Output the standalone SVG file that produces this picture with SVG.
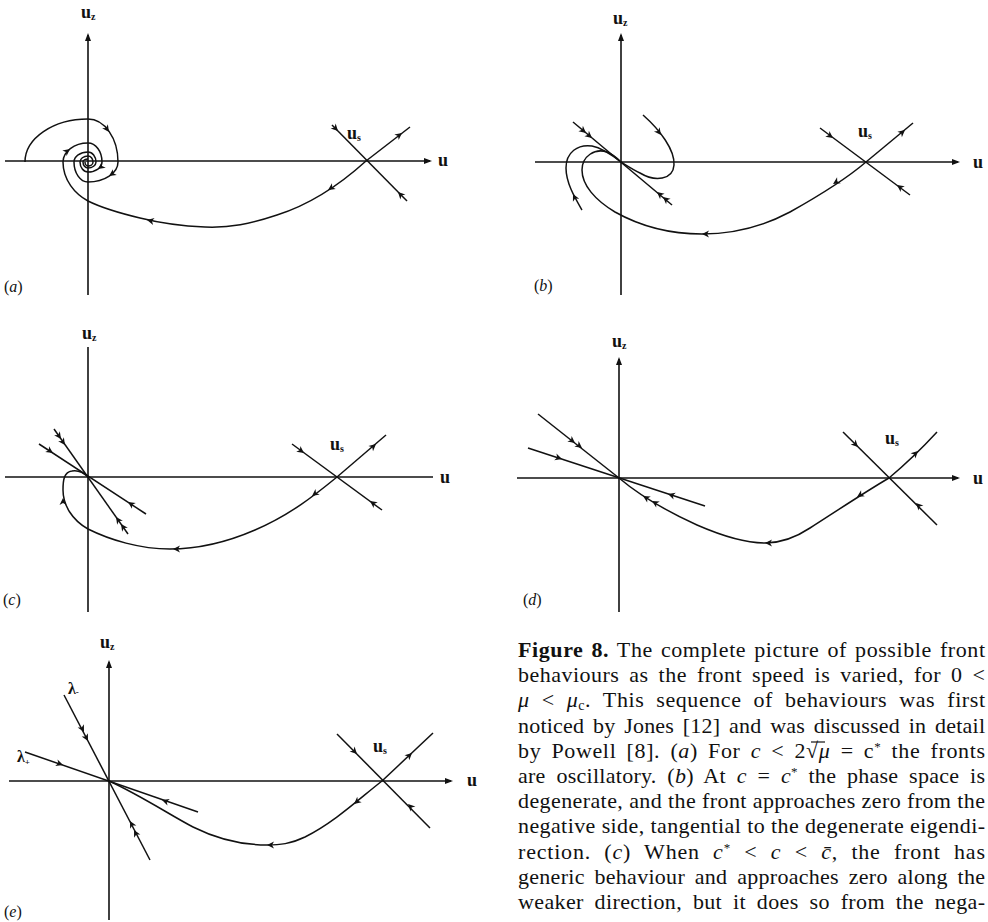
<svg xmlns="http://www.w3.org/2000/svg" xmlns:xlink="http://www.w3.org/1999/xlink" width="988" height="922" viewBox="0 0 988 922">
<style>
.ax{stroke:#111;stroke-width:1.6;fill:none}
.tr{stroke:#111;stroke-width:1.5;fill:none}
.lbl{font-family:"Liberation Serif",serif;font-weight:bold;font-size:18px;fill:#111}
.sub{font-size:10px}
.pl{font-family:"Liberation Serif",serif;font-size:16px;fill:#111}
.cap{font-family:"Liberation Serif",serif;font-size:22px;fill:#111}
.ah{fill:#111}
</style>
<defs>
<path id="ah" d="M0,0 L-7,-3.5 L-5,0 L-7,3.5 Z"/>
<path id="tip" d="M0,0 L-8,-3 L-8,3 Z"/>
</defs>

<g id="panel-a">
<line class="ax" x1="5" y1="161" x2="430" y2="161"/>
<line class="ax" x1="88" y1="35" x2="88" y2="295"/>
<use href="#tip" class="ah" transform="translate(88,33) rotate(-90)"/>
<use href="#tip" class="ah" transform="translate(432,161)"/>
<g id="conn-a">
<line class="tr" x1="332" y1="125" x2="407" y2="201"/>
<line class="tr" x1="366" y1="161" x2="410" y2="127"/>
<path class="tr" d="M366,161 C345,180 315,203 277,215 C250,224 230,228 205,227 C180,226 160,223 140,218 C115,212 100,207 88,201 C75,194 63,180 63,162 A25,19 0 0 1 88,143 A14,19 0 0 1 102,162 A14,10 0 0 1 88,172 A8,10 0 0 1 80,162 A8,6 0 0 1 88,156 A5,6 0 0 1 93,162 A5,4 0 0 1 88,166 A3,4 0 0 1 85,162"/>
<path class="tr" d="M25,162 A63,43 0 0 1 88,119 A30,43 0 0 1 118,162 A30,20 0 0 1 88,182 A14,20 0 0 1 74,162 A14,10 0 0 1 88,152 A8,10 0 0 1 96,162 A8,6 0 0 1 88,168 A5,6 0 0 1 83,162 A5,3 0 0 1 88,159"/>
<use href="#ah" class="ah" transform="translate(338,131) rotate(46)"/>
<use href="#ah" class="ah" transform="translate(398,192) rotate(226)"/>
<use href="#ah" class="ah" transform="translate(402,133) rotate(-38)"/>
<use href="#ah" class="ah" transform="translate(328,190) rotate(147)"/>
<use href="#ah" class="ah" transform="translate(147,220) rotate(192)"/>
<use href="#ah" class="ah" transform="translate(109,132) rotate(55)"/>
<use href="#ah" class="ah" transform="translate(109,176) rotate(146)"/>
<use href="#ah" class="ah" transform="translate(70,149) rotate(-37)"/>
<use href="#ah" class="ah" transform="translate(98,169) rotate(144)"/>
</g>
<text class="lbl" x="81" y="18">u<tspan class="sub" dy="2">z</tspan></text>
<text class="lbl" x="347" y="139">u<tspan class="sub" dy="2">s</tspan></text>
<text class="lbl" x="438" y="166">u</text>
<text class="pl" x="4" y="292">(<tspan font-style="italic">a</tspan>)</text>
</g>

<g id="panel-b">
<line class="ax" x1="535" y1="162" x2="958" y2="162"/>
<line class="ax" x1="621" y1="35" x2="621" y2="295"/>
<use href="#tip" class="ah" transform="translate(621,33) rotate(-90)"/>
<use href="#tip" class="ah" transform="translate(960,162)"/>
<g id="conn-b">
<line class="tr" x1="820" y1="128" x2="910" y2="195"/>
<line class="tr" x1="866" y1="162" x2="913" y2="123"/>
<line class="tr" x1="573" y1="122" x2="672" y2="205"/>
<path class="tr" d="M866,162 C845,180 815,198 790,212 C760,228 730,234 702,234 C670,234 640,226 615,212 C595,200 582,185 582,170 C582,156 595,148 607,152 C612,154 617,158 621,162"/>
<path class="tr" d="M643,115 C660,130 675,150 674,165 C673,180 655,182 640,173 C632,169 626,165 621,162"/>
<path class="tr" d="M582,210 C575,198 566,183 566,168 C566,152 578,144 592,146 C602,148 612,155 621,162"/>
<use href="#ah" class="ah" transform="translate(833,138) rotate(36)"/>
<use href="#ah" class="ah" transform="translate(897,185) rotate(216)"/>
<use href="#ah" class="ah" transform="translate(905,130) rotate(-40)"/>
<use href="#ah" class="ah" transform="translate(833,184) rotate(148)"/>
<use href="#ah" class="ah" transform="translate(702,234) rotate(180)"/>
<use href="#ah" class="ah" transform="translate(586,133) rotate(40)"/>
<use href="#ah" class="ah" transform="translate(592,138) rotate(40)"/>
<use href="#ah" class="ah" transform="translate(657,192) rotate(220)"/>
<use href="#ah" class="ah" transform="translate(663,197) rotate(220)"/>
<use href="#ah" class="ah" transform="translate(661,135) rotate(53)"/>
<use href="#ah" class="ah" transform="translate(573,194) rotate(-116)"/>
</g>
<text class="lbl" x="613" y="24">u<tspan class="sub" dy="2">z</tspan></text>
<text class="lbl" x="858" y="137">u<tspan class="sub" dy="2">s</tspan></text>
<text class="lbl" x="973" y="168">u</text>
<text class="pl" x="534" y="291">(<tspan font-style="italic">b</tspan>)</text>
</g>

<g id="panel-c">
<line class="ax" x1="5" y1="477" x2="433" y2="477"/>
<line class="ax" x1="88" y1="347" x2="88" y2="612"/>
<g id="conn-c">
<line class="tr" x1="292" y1="444" x2="382" y2="510"/>
<line class="tr" x1="337" y1="477" x2="386" y2="435"/>
<line class="tr" x1="54" y1="429" x2="128" y2="534"/>
<line class="tr" x1="39" y1="444" x2="146" y2="514"/>
<path class="tr" d="M337,477 C315,495 290,515 255,530 C225,543 195,549 170,549 C140,549 110,540 88,529 C72,520 63,505 63,490 C63,480 64,472 72,471 C78,470 84,473 88,477"/>
<use href="#ah" class="ah" transform="translate(304,453) rotate(36)"/>
<use href="#ah" class="ah" transform="translate(370,501) rotate(216)"/>
<use href="#ah" class="ah" transform="translate(376,444) rotate(-41)"/>
<use href="#ah" class="ah" transform="translate(312,496) rotate(143)"/>
<use href="#ah" class="ah" transform="translate(173,549) rotate(180)"/>
<use href="#ah" class="ah" transform="translate(63,498) rotate(-90)"/>
<use href="#ah" class="ah" transform="translate(61,439) rotate(55)"/>
<use href="#ah" class="ah" transform="translate(65,445) rotate(55)"/>
<use href="#ah" class="ah" transform="translate(116,517) rotate(235)"/>
<use href="#ah" class="ah" transform="translate(121,524) rotate(235)"/>
<use href="#ah" class="ah" transform="translate(53,453) rotate(33)"/>
<use href="#ah" class="ah" transform="translate(128,502) rotate(213)"/>
</g>
<text class="lbl" x="82" y="339">u<tspan class="sub" dy="2">z</tspan></text>
<text class="lbl" x="330" y="450">u<tspan class="sub" dy="2">s</tspan></text>
<text class="lbl" x="440" y="483">u</text>
<text class="pl" x="3" y="605">(<tspan font-style="italic">c</tspan>)</text>
</g>

<g id="panel-d">
<line class="ax" x1="517" y1="478" x2="958" y2="478"/>
<line class="ax" x1="619" y1="359" x2="619" y2="612"/>
<use href="#tip" class="ah" transform="translate(619,357) rotate(-90)"/>
<use href="#tip" class="ah" transform="translate(960,478)"/>
<g id="conn-d">
<line class="tr" x1="843" y1="432" x2="937" y2="525"/>
<path class="tr" d="M889,478 Q914,457 937,432"/>
<line class="tr" x1="538" y1="414" x2="619" y2="478"/>
<line class="tr" x1="528" y1="448" x2="705" y2="506"/>
<path class="tr" d="M889,478 C865,492 835,512 810,528 C795,538 780,543 765,543 C745,543 720,535 697,525 C675,515 645,500 619,478"/>
<use href="#ah" class="ah" transform="translate(858,447) rotate(45)"/>
<use href="#ah" class="ah" transform="translate(916,503) rotate(225)"/>
<use href="#ah" class="ah" transform="translate(918,451) rotate(-44)"/>
<use href="#ah" class="ah" transform="translate(857,497) rotate(148)"/>
<use href="#ah" class="ah" transform="translate(765,543) rotate(180)"/>
<use href="#ah" class="ah" transform="translate(652,501) rotate(211)"/>
<use href="#ah" class="ah" transform="translate(643,496) rotate(211)"/>
<use href="#ah" class="ah" transform="translate(575,443) rotate(38)"/>
<use href="#ah" class="ah" transform="translate(582,448) rotate(38)"/>
<use href="#ah" class="ah" transform="translate(562,459) rotate(18)"/>
<use href="#ah" class="ah" transform="translate(668,494) rotate(198)"/>
</g>
<text class="lbl" x="612" y="347">u<tspan class="sub" dy="2">z</tspan></text>
<text class="lbl" x="885" y="444">u<tspan class="sub" dy="2">s</tspan></text>
<text class="lbl" x="973" y="484">u</text>
<text class="pl" x="523" y="605">(<tspan font-style="italic">d</tspan>)</text>
</g>

<g id="panel-e">
<line class="ax" x1="9" y1="781" x2="451" y2="781"/>
<line class="ax" x1="109" y1="662" x2="109" y2="920"/>
<use href="#tip" class="ah" transform="translate(109,660) rotate(-90)"/>
<use href="#tip" class="ah" transform="translate(453,781)"/>
<g id="conn-e">
<line class="tr" x1="337" y1="734" x2="430" y2="828"/>
<line class="tr" x1="382" y1="781" x2="433" y2="733"/>
<line class="tr" x1="64" y1="695" x2="150" y2="860"/>
<line class="tr" x1="25" y1="752" x2="198" y2="812"/>
<path class="tr" d="M382,781 C360,798 335,822 305,837 C290,844 280,845 267,845 C240,845 215,838 193,827 C170,815 140,795 109,781"/>
<use href="#ah" class="ah" transform="translate(357,754) rotate(45)"/>
<use href="#ah" class="ah" transform="translate(408,804) rotate(225)"/>
<use href="#ah" class="ah" transform="translate(412,753) rotate(-43)"/>
<use href="#ah" class="ah" transform="translate(354,804) rotate(141)"/>
<use href="#ah" class="ah" transform="translate(267,845) rotate(180)"/>
<use href="#ah" class="ah" transform="translate(84,732) rotate(62.6)"/>
<use href="#ah" class="ah" transform="translate(88,741) rotate(62.6)"/>
<use href="#ah" class="ah" transform="translate(130,821) rotate(242.6)"/>
<use href="#ah" class="ah" transform="translate(134,830) rotate(242.6)"/>
<use href="#ah" class="ah" transform="translate(63,765) rotate(19)"/>
<use href="#ah" class="ah" transform="translate(162,800) rotate(199)"/>
</g>
<text class="lbl" x="100" y="648">u<tspan class="sub" dy="2">z</tspan></text>
<text class="lbl" x="373" y="752">u<tspan class="sub" dy="2">s</tspan></text>
<text class="lbl" x="467" y="786">u</text>
<text class="pl" font-weight="bold" x="68" y="694">λ<tspan font-size="9" dy="1">-</tspan></text>
<text class="pl" font-weight="bold" x="17" y="762">λ<tspan font-size="9" dy="3">+</tspan></text>
<text class="pl" x="4" y="917">(<tspan font-style="italic">e</tspan>)</text>
</g>

<g id="caption" class="cap">
<text x="518" y="657" textLength="467" lengthAdjust="spacing" word-spacing="2"><tspan font-weight="bold">Figure 8.</tspan> The complete picture of possible front</text>
<text x="518" y="682" textLength="467" lengthAdjust="spacing" word-spacing="4">behaviours as the front speed is varied, for 0 &lt;</text>
<text x="518" y="707" textLength="467" lengthAdjust="spacing" word-spacing="6"><tspan font-style="italic">μ</tspan> &lt; <tspan font-style="italic">μ</tspan><tspan font-size="14" dy="3">c</tspan><tspan dy="-3">.</tspan>  This sequence of behaviours was first</text>
<text x="518" y="733" textLength="467" lengthAdjust="spacing" word-spacing="3">noticed by Jones [12] and was discussed in detail</text>
<text x="518" y="758" textLength="467" lengthAdjust="spacing" word-spacing="4">by Powell [8].  (<tspan font-style="italic">a</tspan>) For <tspan font-style="italic">c</tspan> &lt; 2√<tspan font-style="italic">μ</tspan> = c<tspan font-size="13" dy="-7">*</tspan><tspan dy="7"> the fronts</tspan></text>
<line x1="811" y1="742" x2="825" y2="742" stroke="#111" stroke-width="1.2"/>
<text x="518" y="783" textLength="467" lengthAdjust="spacing" word-spacing="5">are oscillatory.  (<tspan font-style="italic">b</tspan>) At <tspan font-style="italic">c</tspan> = <tspan font-style="italic">c</tspan><tspan font-size="13" dy="-7">*</tspan><tspan dy="7"> the phase space is</tspan></text>
<text x="518" y="808" textLength="467" lengthAdjust="spacing">degenerate, and the front approaches zero from the</text>
<text x="518" y="833" textLength="467" lengthAdjust="spacing">negative side, tangential to the degenerate eigendi-</text>
<text x="518" y="859" textLength="467" lengthAdjust="spacing" word-spacing="7">rection.  (<tspan font-style="italic">c</tspan>) When <tspan font-style="italic">c</tspan><tspan font-size="13" dy="-7">*</tspan><tspan dy="7"> &lt; </tspan><tspan font-style="italic">c</tspan> &lt; <tspan font-style="italic">c̄</tspan>, the front has</text>
<text x="518" y="884" textLength="467" lengthAdjust="spacing" word-spacing="4">generic behaviour and approaches zero along the</text>
<text x="518" y="909" textLength="467" lengthAdjust="spacing" word-spacing="5">weaker direction, but it does so from the nega-</text>
</g>
</svg>
